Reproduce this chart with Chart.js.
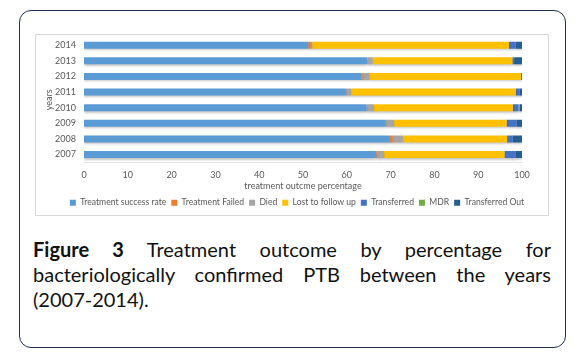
<!DOCTYPE html>
<html>
<head>
<meta charset="utf-8">
<script src="https://cdn.jsdelivr.net/npm/chart.js@4.4.1/dist/chart.umd.min.js"></script>
<style>
  html, body { margin: 0; padding: 0; background: #ffffff; }
  body { width: 581px; height: 353px; position: relative; overflow: hidden; }
  #outer {
    position: absolute; left: 19px; top: 10px; width: 545px; height: 336px;
    border: 1px solid #1f3050; border-radius: 12px; box-sizing: content-box;
  }
  #frame {
    position: absolute; left: 35px; top: 34px; width: 512px; height: 180px;
    border: 1px solid #d9d9d9; box-sizing: content-box;
  }
  #wrap { position: absolute; left: 36px; top: 24px; width: 512px; height: 197px; }
  #caption {
    position: absolute; left: 33px; top: 237px; width: 518px;
    font-family: Lato, "Noto Sans", sans-serif; font-size: 20px; line-height: 25px; color: #111;
  }
  #caption .l { display: block; text-align: justify; text-align-last: justify; }
  #caption .last { display: block; text-align: left; }
</style>
</head>
<body>
<div id="outer"></div>
<div id="frame"></div>
<div id="wrap"><canvas id="c" width="512" height="197"></canvas></div>
<div id="caption">
  <div class="l"><b>Figure 3</b> Treatment outcome by percentage for</div>
  <div class="l">bacteriologically confirmed PTB between the years</div>
  <div class="last">(2007-2014).</div>
</div>
<script>
const years = ['2007', '2008', '2009', '2010', '2011', '2012', '2013', '2014'];
const seriesNames = ['Treatment success rate', 'Treatment Failed', 'Died', 'Lost to follow up', 'Transferred', 'MDR', 'Transferred Out'];
const successRate   = [66.7, 69.9, 68.9, 64.5, 59.8, 63.4, 64.7, 51.2];
const treatFailed   = [0.3, 0.6, 0.0, 0.0, 0.0, 0.2, 0.0, 0.6];
const died          = [1.5, 2.4, 1.9, 1.7, 1.2, 1.5, 1.2, 0.3];
const lostFollowUp  = [27.5, 23.7, 25.7, 31.7, 37.6, 34.7, 31.9, 44.9];
const transferred   = [2.6, 1.3, 2.3, 1.3, 0.8, 0.0, 0.4, 1.5];
const mdr           = [0.0, 0.0, 0.0, 0.3, 0.0, 0.0, 0.0, 0.0];
const transferredOut= [1.4, 2.1, 1.2, 0.5, 0.6, 0.2, 1.8, 1.5];
const xTicks = [0, 10, 20, 30, 40, 50, 60, 70, 80, 90, 100];

const colors = ['#5B9BD5', '#ED7D31', '#A5A5A5', '#FFC000', '#4472C4', '#70AD47', '#255E91'];
const values = [successRate, treatFailed, died, lostFollowUp, transferred, mdr, transferredOut];

const font = { family: 'Lato, "Noto Sans", sans-serif', size: 9 };
const legendFont = { family: 'Lato, "Noto Sans", sans-serif', size: 8.6 };
const grey = '#595959';

const barShadow = {
  id: 'barShadow',
  beforeDatasetsDraw(chart) {
    const ctx = chart.ctx;
    ctx.save();
    ctx.shadowColor = 'rgba(0,0,0,0.22)';
    ctx.shadowBlur = 2;
    ctx.shadowOffsetY = 1.5;
  },
  afterDatasetsDraw(chart) {
    chart.ctx.restore();
  }
};

const legendShift = {
  id: 'legendShift',
  afterLayout(chart) {
    const l = chart.legend;
    if (l) { l.left += 18; l.right += 18; }
  }
};

new Chart(document.getElementById('c'), {
  type: 'bar',
  data: {
    labels: years,
    datasets: seriesNames.map((n, i) => ({
      label: n,
      data: values[i],
      backgroundColor: colors[i],
      borderWidth: 0,
      barPercentage: 0.9,
      categoryPercentage: 0.5
    }))
  },
  options: {
    indexAxis: 'y',
    responsive: false,
    animation: false,
    layout: { padding: { top: 1, right: 26, bottom: 4, left: 0 } },
    scales: {
      x: {
        stacked: true,
        min: 0, max: 100,
        afterBuildTicks: (s) => { s.ticks = xTicks.map(v => ({ value: v })); },
        grid: { display: false, drawTicks: false },
        border: { display: true, color: '#e3e3e3' },
        ticks: { color: grey, font: font, padding: 7, maxRotation: 0, autoSkip: false },
        title: { display: true, text: 'treatment outcme percentage', color: grey, font: font, padding: { top: 0, bottom: 2 } },
        afterFit: (s) => { s.height = 31; }
      },
      y: {
        stacked: true,
        reverse: true,
        grid: { display: false, drawTicks: false },
        border: { display: false },
        ticks: { color: grey, font: font, padding: 8, autoSkip: false },
        title: { display: true, text: 'years', color: grey, font: font, padding: { top: 8, bottom: 0 } },
        afterFit: (s) => { s.width = 48; }
      }
    },
    plugins: {
      legend: {
        position: 'bottom',
        labels: { boxWidth: 6, boxHeight: 6, color: grey, font: legendFont, padding: 5 }
      },
      tooltip: { enabled: false }
    }
  },
  plugins: [barShadow, legendShift]
});
</script>
</body>
</html>
